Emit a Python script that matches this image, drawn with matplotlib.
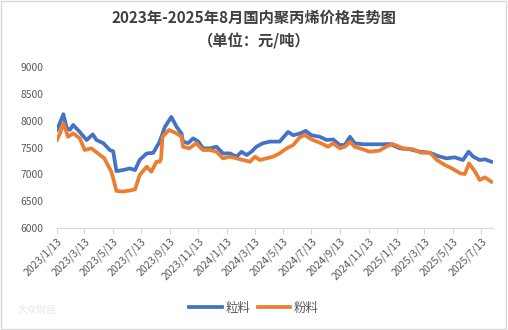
import matplotlib
matplotlib.use("Agg")
import matplotlib.pyplot as plt
import pandas as pd
from matplotlib.patches import Rectangle

plt.rcParams['font.family'] = ['Noto Sans CJK SC', 'DejaVu Sans']

title_line1 = "2023年-2025年8月国内聚丙烯价格走势图"
title_line2 = "（单位：元/吨）"
series_names = ["粒料", "粉料"]

granule_dates = ["2023-01-13", "2023-01-19", "2023-01-27", "2023-02-03", "2023-02-10", "2023-02-17",
                 "2023-03-03", "2023-03-18", "2023-03-31", "2023-04-08", "2023-04-23", "2023-05-07",
                 "2023-05-14", "2023-05-21", "2023-06-04", "2023-06-19", "2023-06-30", "2023-07-10",
                 "2023-07-25", "2023-08-08", "2023-08-22", "2023-09-02", "2023-09-16", "2023-09-27",
                 "2023-10-08", "2023-10-11", "2023-10-22", "2023-11-02", "2023-11-13", "2023-11-23",
                 "2023-12-08", "2023-12-22", "2024-01-05", "2024-01-20", "2024-02-03", "2024-02-14",
                 "2024-02-25", "2024-03-06", "2024-03-17", "2024-03-31", "2024-04-15", "2024-05-06",
                 "2024-05-24", "2024-06-04", "2024-06-18", "2024-07-01", "2024-07-13", "2024-07-31",
                 "2024-08-15", "2024-08-29", "2024-09-12", "2024-09-23", "2024-10-04", "2024-10-14",
                 "2024-11-01", "2024-11-23", "2024-12-14", "2024-12-29", "2025-01-19", "2025-02-10",
                 "2025-03-03", "2025-03-25", "2025-04-11", "2025-04-29", "2025-05-17", "2025-06-04",
                 "2025-06-16", "2025-06-26", "2025-07-10", "2025-07-21", "2025-08-04"]
granule_values = [7830, 7950, 8120, 7860, 7830, 7920,
                  7790, 7640, 7745, 7640, 7580, 7450,
                  7430, 7060, 7080, 7110, 7080, 7270,
                  7390, 7400, 7610, 7880, 8070, 7890,
                  7760, 7610, 7580, 7670, 7610, 7485,
                  7485, 7515, 7390, 7390, 7330, 7420,
                  7360, 7420, 7515, 7580, 7610, 7610,
                  7790, 7730, 7760, 7810, 7730, 7700,
                  7640, 7650, 7546, 7546, 7700, 7580,
                  7560, 7560, 7560, 7565, 7485, 7466,
                  7422, 7403, 7342, 7298, 7317, 7267,
                  7422, 7330, 7267, 7280, 7235]

powder_dates = ["2023-01-13", "2023-01-19", "2023-01-27", "2023-02-06", "2023-02-17", "2023-03-03",
                "2023-03-14", "2023-03-28", "2023-04-11", "2023-04-25", "2023-05-10", "2023-05-14",
                "2023-05-21", "2023-06-04", "2023-06-19", "2023-06-30", "2023-07-10", "2023-07-25",
                "2023-08-04", "2023-08-15", "2023-08-22", "2023-08-25", "2023-08-28", "2023-09-11",
                "2023-09-27", "2023-10-08", "2023-10-11", "2023-10-25", "2023-11-08", "2023-11-23",
                "2023-12-08", "2023-12-22", "2024-01-05", "2024-01-20", "2024-02-03", "2024-02-17",
                "2024-03-03", "2024-03-14", "2024-03-24", "2024-04-08", "2024-04-22", "2024-05-06",
                "2024-05-21", "2024-06-04", "2024-06-18", "2024-06-29", "2024-07-13", "2024-07-31",
                "2024-08-18", "2024-08-29", "2024-09-12", "2024-09-23", "2024-10-04", "2024-10-14",
                "2024-11-01", "2024-11-15", "2024-12-06", "2024-12-21", "2025-01-04", "2025-01-26",
                "2025-02-17", "2025-03-06", "2025-03-25", "2025-04-09", "2025-04-26", "2025-05-11",
                "2025-05-29", "2025-06-08", "2025-06-17", "2025-06-30", "2025-07-10", "2025-07-21",
                "2025-08-04"]
powder_values = [7640, 7750, 7950, 7700, 7765, 7670,
                 7453, 7485, 7392, 7298, 7049, 6926,
                 6690, 6680, 6700, 6720, 6987, 7142,
                 7049, 7235, 7235, 7298, 7700, 7826,
                 7764, 7700, 7515, 7485, 7578, 7453,
                 7453, 7422, 7298, 7330, 7298, 7267,
                 7235, 7330, 7267, 7298, 7330, 7392,
                 7485, 7546, 7690, 7733, 7652, 7590,
                 7515, 7578, 7485, 7515, 7608, 7515,
                 7466, 7422, 7440, 7515, 7565, 7485,
                 7466, 7403, 7403, 7267, 7174, 7112,
                 7019, 7006, 7205, 7049, 6894, 6944,
                 6863]

tick_dates = ["2023-01-13", "2023-03-13", "2023-05-13", "2023-07-13", "2023-09-13", "2023-11-13",
              "2024-01-13", "2024-03-13", "2024-05-13", "2024-07-13", "2024-09-13", "2024-11-13",
              "2025-01-13", "2025-03-13", "2025-05-13", "2025-07-13"]
tick_labels = ["2023/1/13", "2023/3/13", "2023/5/13", "2023/7/13", "2023/9/13", "2023/11/13",
               "2024/1/13", "2024/3/13", "2024/5/13", "2024/7/13", "2024/9/13", "2024/11/13",
               "2025/1/13", "2025/3/13", "2025/5/13", "2025/7/13"]
y_ticks = [6000, 6500, 7000, 7500, 8000, 8500, 9000]

fig = plt.figure(figsize=(5.08, 3.30), dpi=100)
fig.patches.append(Rectangle((0.002, 0.003), 0.994, 0.994, transform=fig.transFigure,
                             fill=False, edgecolor="#D9D9D9", linewidth=1))
ax = fig.add_axes([0.112, 0.309, 0.858, 0.488])

ax.plot(pd.to_datetime(granule_dates), granule_values, color="#4472C4", linewidth=2.7,
        label=series_names[0], solid_joinstyle="round")
ax.plot(pd.to_datetime(powder_dates), powder_values, color="#ED7D31", linewidth=2.7,
        label=series_names[1], solid_joinstyle="round")

ax.set_ylim(6000, 9000)
ax.set_yticks(y_ticks)
ax.set_xlim(pd.Timestamp("2023-01-13"), pd.Timestamp("2025-08-07"))
ax.set_xticks(pd.to_datetime(tick_dates))
ax.set_xticklabels(tick_labels, rotation=45, ha="right", rotation_mode="anchor")

for s in ["top", "right", "left"]:
    ax.spines[s].set_visible(False)
ax.spines["bottom"].set_color("#D9D9D9")
ax.tick_params(axis="y", length=0, labelsize=7.4, colors="#595959", pad=10)
ax.tick_params(axis="x", length=4, direction="out", color="#D9D9D9", labelsize=7.5,
               labelcolor="#595959", pad=2)

fig.text(0.5, 0.945, title_line1, ha="center", va="center",
         fontsize=11, fontweight="bold", color="#404040")
fig.text(0.5, 0.875, title_line2, ha="center", va="center",
         fontsize=11, fontweight="bold", color="#404040")

fig.legend(loc="center", bbox_to_anchor=(0.5, 0.066), ncol=2, frameon=False,
           fontsize=9, handlelength=2.6, columnspacing=0.6, handletextpad=0.3,
           labelcolor="#595959")

fig.text(0.035, 0.06, "大众财经", fontsize=7, color="#E6E6E6", ha="left", va="center")

fig.savefig("out.png", dpi=100)
